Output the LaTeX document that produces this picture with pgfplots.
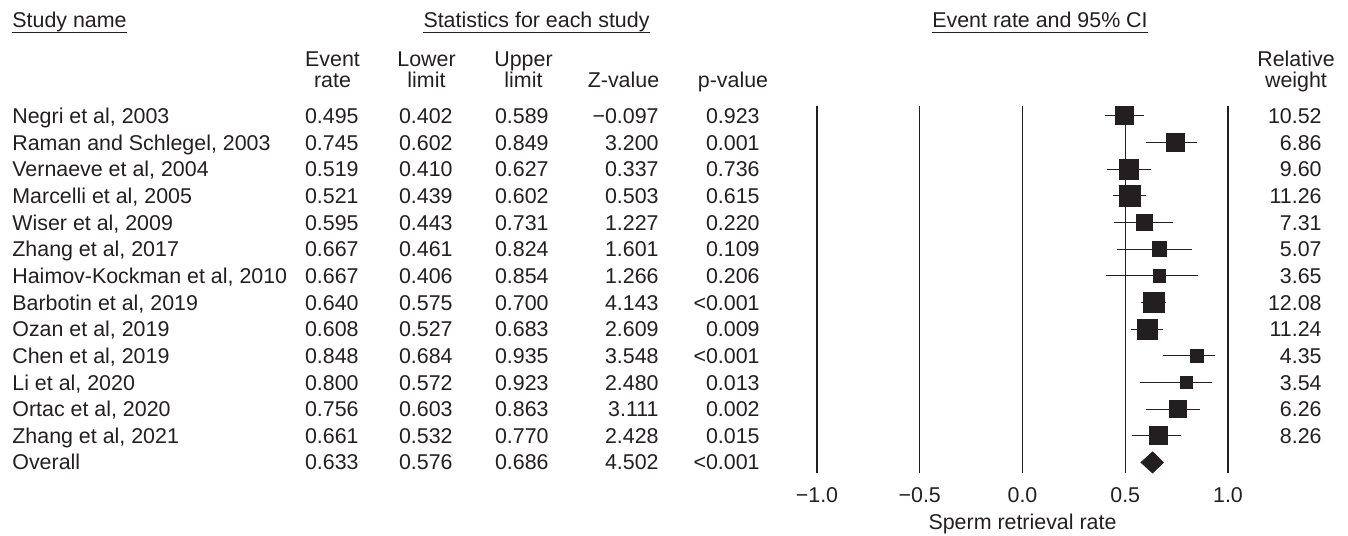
\documentclass[border=0pt]{standalone}
\usepackage{fontspec}
\setmainfont{Liberation Sans}
\usepackage{pgfplots}
\pgfplotsset{compat=1.18}
\usepackage{pgfplotstable}
\usetikzlibrary{calc}
\definecolor{ink}{HTML}{231F20}

% row, event rate, lower, upper, square width (px)
\pgfplotstableread{
row er lo hi sz
1 0.495 0.402 0.589 18
2 0.745 0.602 0.849 17.4
3 0.519 0.410 0.627 19.5
4 0.521 0.439 0.602 21
5 0.595 0.443 0.731 16
6 0.667 0.461 0.824 14.8
7 0.667 0.406 0.854 12.7
8 0.640 0.575 0.700 20.5
9 0.608 0.527 0.683 20
10 0.848 0.684 0.935 13
11 0.800 0.572 0.923 12
12 0.756 0.603 0.863 16.3
13 0.661 0.532 0.770 18
}\studies

\begin{document}
\fontsize{10.7}{12.8}\selectfont
\begin{tikzpicture}
\path[use as bounding box] (0,0) rectangle (674pt,-267.5pt);
\begin{axis}[
  at={(408.5pt,-236.5pt)}, anchor=south west,
  scale only axis, width=205.5pt, height=183.5pt,
  xmin=-1, xmax=1, ymin=-14.396, ymax=-0.625,
  axis line style={draw=none},
  ytick=\empty,
  xtick={-1,-0.5,0,0.5,1},
  xticklabels={−1.0,−0.5,0.0,0.5,1.0},
  major tick length=0pt,
  xmajorgrids, grid style={ink, line width=0.65pt},
  xticklabel style={font=\fontsize{10.7}{12.8}\selectfont, text=ink, anchor=north, inner sep=0pt, yshift=-7.2pt},
  clip=false,
]
\addplot[ink, line width=0.5pt, only marks, mark=none, forget plot,
  error bars/.cd, x dir=both, x explicit, error mark=none,
  error bar style={line width=0.5pt, ink}]
  table[x=er, y expr=-\thisrow{row},
        x error plus expr=\thisrow{hi}-\thisrow{er},
        x error minus expr=\thisrow{er}-\thisrow{lo}] {\studies};
\addplot[scatter, only marks, mark=square*, line width=0pt,
  scatter/use mapped color={draw=ink, fill=ink},
  visualization depends on={\thisrow{sz} \as \sz},
  scatter/@pre marker code/.append style={/tikz/mark size=\sz/4}]
  table[x=er, y expr=-\thisrow{row}] {\studies};
\addplot[fill=ink, draw=ink, line width=0.3pt]
  coordinates {(0.576,-14) (0.633,-13.6) (0.686,-14) (0.633,-14.4)} -- cycle;
\end{axis}

\begin{scope}[x=0.5pt,y=-0.5pt, every node/.style={inner sep=0pt, text=ink}]
  \node[anchor=base west] (h1) at (12,28) {Study name};
  \node[anchor=base] (h2) at (536.5,28) {Statistics for each study};
  \node[anchor=base] (h3) at (1040,28) {Event rate and 95\% CI};
  \foreach \h in {h1,h2,h3}{
    \draw[ink, line width=0.65pt] ($(\h.base west)+(0,4.8)$) -- ($(\h.base east)+(0,4.8)$);
  }
  \node[anchor=base] at (332.5,67) {Event};
  \node[anchor=base] at (332.5,88) {rate};
  \node[anchor=base] at (426.5,67) {Lower};
  \node[anchor=base] at (426.5,88) {limit};
  \node[anchor=base] at (523.5,67) {Upper};
  \node[anchor=base] at (523.5,88) {limit};
  \node[anchor=base] at (623.5,88) {Z-value};
  \node[anchor=base] at (733,88) {p-value};
  \node[anchor=base] at (1296,67) {Relative};
  \node[anchor=base] at (1296,88) {weight};
  \foreach \i/\nm/\a/\b/\c/\z/\p/\w in {
    1/{Negri et al, 2003}/0.495/0.402/0.589/−0.097/0.923/10.52,
    2/{Raman and Schlegel, 2003}/0.745/0.602/0.849/3.200/0.001/6.86,
    3/{Vernaeve et al, 2004}/0.519/0.410/0.627/0.337/0.736/9.60,
    4/{Marcelli et al, 2005}/0.521/0.439/0.602/0.503/0.615/11.26,
    5/{Wiser et al, 2009}/0.595/0.443/0.731/1.227/0.220/7.31,
    6/{Zhang et al, 2017}/0.667/0.461/0.824/1.601/0.109/5.07,
    7/{Haimov-Kockman et al, 2010}/0.667/0.406/0.854/1.266/0.206/3.65,
    8/{Barbotin et al, 2019}/0.640/0.575/0.700/4.143/<0.001/12.08,
    9/{Ozan et al, 2019}/0.608/0.527/0.683/2.609/0.009/11.24,
    10/{Chen et al, 2019}/0.848/0.684/0.935/3.548/<0.001/4.35,
    11/{Li et al, 2020}/0.800/0.572/0.923/2.480/0.013/3.54,
    12/{Ortac et al, 2020}/0.756/0.603/0.863/3.111/0.002/6.26,
    13/{Zhang et al, 2021}/0.661/0.532/0.770/2.428/0.015/8.26,
    14/{Overall}/0.633/0.576/0.686/4.502/<0.001/{}}
  {
    \pgfmathsetmacro\yb{123.5+(\i-1)*26.65}
    \node[anchor=base west] at (12,\yb) {\nm};
    \node[anchor=base east] at (359,\yb) {\a};
    \node[anchor=base east] at (453,\yb) {\b};
    \node[anchor=base east] at (549,\yb) {\c};
    \node[anchor=base east] at (659,\yb) {\z};
    \node[anchor=base east] at (760,\yb) {\p};
    \node[anchor=base east] at (1322,\yb) {\w};
  }
  \node[anchor=base] at (1022.5,529) {Sperm retrieval rate};
\end{scope}
\end{tikzpicture}
\end{document}
